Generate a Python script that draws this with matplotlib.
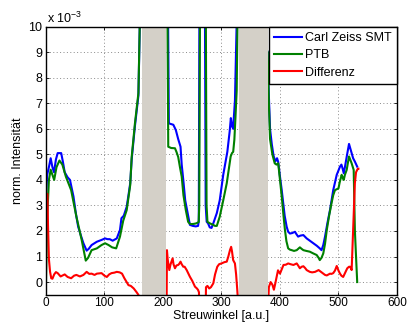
import numpy as np
import matplotlib
matplotlib.use("Agg")
import matplotlib.pyplot as plt

plt.rcParams['font.family'] = ['Liberation Sans', 'DejaVu Sans']
plt.rcParams['mathtext.fontset'] = 'custom'
plt.rcParams['mathtext.rm'] = 'Liberation Sans'
plt.rcParams['mathtext.it'] = 'Liberation Sans:italic'
plt.rcParams['mathtext.default'] = 'regular'

# ---- data (intensities in units of 1e-3) ----
zeiss_x = [0, 2, 5, 8, 11, 13.7, 17, 20, 26, 29, 32, 37, 41, 47, 51, 55, 60, 64, 69.5, 73, 78, 87, 95,
           101, 105, 109, 114, 121, 126.5, 129, 133, 138, 141, 144, 146.5, 152, 158, 160.7, 165, 200,
           205, 208.5, 210, 212, 217.7, 222, 226, 230, 232, 234.7, 238, 243, 246, 251, 256, 260, 261.2,
           262.5, 271.5, 273, 274.7, 277, 280, 283, 286, 292, 297, 303, 310, 314, 316, 318, 320, 321,
           323, 326, 330, 379, 381, 383, 386, 389, 392, 395, 397, 400, 403, 405.6, 408, 411.4, 414, 417,
           421, 425.6, 428, 431, 435, 440, 445.6, 451, 457, 463, 468, 471, 474, 477, 481, 485.5, 491, 497,
           502.6, 505, 507, 509, 511, 514, 518, 520, 522.5, 525, 528, 532]
zeiss_y = [3.4, 4.2, 4.5, 4.85, 4.5, 4.3, 4.8, 5.05, 5.05, 4.7, 4.3, 4.1, 4.0, 3.35, 2.7, 2.17, 1.8, 1.52,
           1.23, 1.3, 1.45, 1.58, 1.65, 1.71, 1.68, 1.68, 1.62, 1.71, 2.04, 2.5, 2.6, 2.95, 3.4, 3.87, 4.8,
           6.1, 7.3, 10.5, 14, 14, 12, 11, 6.22, 6.2, 6.16, 5.95, 5.6, 5.3, 4.6, 4.0, 3.2, 2.6, 2.24, 2.2,
           2.18, 2.2, 2.4, 12, 12, 3.0, 2.36, 2.3, 2.14, 2.12, 2.3, 2.7, 3.2, 4.2, 5.1, 5.9, 6.42, 6.1, 6.0,
           6.4, 7.1, 10.2, 12, 9.0, 7.3, 6.0, 5.4, 4.95, 4.72, 4.85, 4.7, 4.13, 3.6, 3.08, 2.6, 2.17, 1.97,
           1.9, 1.92, 1.97, 1.88, 1.78, 1.82, 1.84, 1.71, 1.62, 1.52, 1.42, 1.32, 1.25, 1.45, 1.78, 2.3,
           2.82, 3.6, 4.2, 4.52, 4.6, 4.45, 4.26, 4.5, 4.9, 5.41, 5.25, 5.05, 4.85, 4.72, 4.52]

ptb_x = [0, 2, 5, 8, 11, 14, 18, 23, 28, 34, 43, 52, 61, 68, 72, 78, 87, 95, 101, 107, 113, 120, 126.5,
         132, 138, 144, 146.5, 152, 158, 160.7, 165, 200, 205, 207.5, 209, 214, 220.5, 223, 226, 229, 232,
         235, 239, 243, 246, 249, 253, 257, 261, 262, 263.5, 273, 274.5, 276, 280, 285, 289, 292, 297, 303,
         309, 315.7, 318, 320, 322, 324, 326, 327.5, 330, 379, 381, 383, 387, 391, 394, 397, 400, 403, 406,
         408.5, 411, 414, 417, 420, 424, 428.6, 434, 437, 440, 445, 451, 457, 462.7, 466, 468, 471, 474,
         477, 480, 484, 488, 491, 494, 500, 502, 505.4, 507, 509, 511, 514, 518, 520, 522.5, 526, 528, 530,
         532]
ptb_y = [0.0, 2.5, 4.0, 4.4, 4.2, 4.0, 4.5, 4.76, 4.6, 4.13, 3.6, 2.56, 1.65, 0.84, 0.95, 1.25, 1.32,
         1.45, 1.52, 1.45, 1.36, 1.32, 1.78, 2.4, 2.82, 3.8, 4.9, 6.2, 7.4, 10.5, 14, 14, 12, 11, 5.3, 5.25,
         5.24, 5.1, 4.9, 4.5, 4.13, 3.4, 2.82, 2.36, 2.28, 2.27, 2.28, 2.3, 2.35, 3.0, 12, 12, 3.0, 2.36,
         2.3, 2.25, 2.2, 2.2, 2.56, 3.2, 3.87, 4.92, 5.05, 5.1, 5.57, 6.5, 7.5, 10.5, 12, 9.0, 7.0, 5.6,
         5.0, 4.65, 4.6, 4.65, 4.0, 3.35, 2.6, 2.04, 1.6, 1.32, 1.27, 1.25, 1.22, 1.25, 1.36, 1.3, 1.25,
         1.22, 1.19, 1.12, 1.06, 0.95, 0.86, 0.95, 1.12, 1.5, 2.04, 2.6, 3.08, 3.4, 3.6, 3.67, 3.9, 4.2,
         4.1, 4.0, 4.2, 4.39, 4.92, 4.8, 4.65, 4.39, 2.04, 1.0, 0.0]

diff_x = [0, 1, 2.5, 3.5, 5, 7, 9, 11, 14, 17, 20, 25, 32, 37, 43, 48, 52, 58, 64, 69.5, 74, 78, 83, 87,
          95, 100, 104, 108, 112, 117, 121, 126, 130, 134, 141, 145, 150, 155, 158, 161, 205, 206.3, 206.8,
          208, 210.8, 213, 216.5, 218, 220.5, 223, 226, 228, 230, 232, 234.7, 237, 240.5, 243, 246, 250,
          254.7, 258, 260, 261.5, 262, 273, 273.5, 276, 279, 282, 286, 289, 292.8, 296, 300, 305, 309,
          311.7, 314.5, 316.5, 318, 320, 323, 325, 327, 329, 379.5, 381, 384, 387, 389.6, 392, 396.6, 400,
          403, 406, 410, 414, 418, 423, 428.6, 431, 434, 437, 440, 443, 445.6, 451, 455, 460, 466, 470,
          474, 477, 480, 483, 485.5, 488, 491, 494, 497, 500, 502.6, 505, 508, 511, 515, 518, 520, 522.5,
          525.4, 528, 530, 533, 534]
diff_y = [2.4, 3.45, 3.45, 2.2, 0.9, 0.4, 0.15, 0.13, 0.3, 0.39, 0.35, 0.22, 0.3, 0.2, 0.15, 0.25, 0.28,
          0.22, 0.28, 0.4, 0.32, 0.33, 0.28, 0.33, 0.35, 0.25, 0.2, 0.3, 0.35, 0.37, 0.4, 0.38, 0.33, 0.15,
          -0.12, -0.15, -0.25, -0.4, -0.5, -0.7, -1.0, -0.5, 1.25, 0.9, 0.47, 0.7, 0.93, 0.7, 0.54, 0.65,
          0.67, 0.72, 0.8, 0.7, 0.6, 0.6, 0.47, 0.35, 0.21, 0.05, -0.18, -0.25, -0.31, -0.4, -1.0, -1.0,
          -0.2, -0.15, -0.25, -0.2, -0.05, 0.3, 0.6, 0.7, 0.73, 0.78, 0.8, 1.0, 1.25, 1.38, 1.2, 0.86,
          0.73, 0.3, -0.31, -1.0, -1.0, -0.2, 0.0, -0.1, -0.3, -0.05, 0.46, 0.33, 0.5, 0.67, 0.68, 0.73,
          0.7, 0.67, 0.73, 0.65, 0.54, 0.6, 0.62, 0.55, 0.47, 0.4, 0.38, 0.4, 0.47, 0.4, 0.33, 0.28, 0.26,
          0.3, 0.33, 0.32, 0.35, 0.45, 0.63, 0.45, 0.33, 0.25, 0.2, 0.35, 0.54, 0.6, 0.6, 0.47, 2.3, 3.87,
          4.3, 4.44, 4.44]

masked_regions = [(163.6, 204.6), (330.4, 379.5)]
labels = ['Carl Zeiss SMT', 'PTB', 'Differenz']
x_ticks = [0, 100, 200, 300, 400, 500, 600]
y_ticks = [0, 1, 2, 3, 4, 5, 6, 7, 8, 9, 10]

# ---- figure ----
fig = plt.figure(figsize=(4.08, 3.24), dpi=100)
ax = fig.add_axes([0.1127, 0.090, 0.8603, 0.8276])

ax.plot(zeiss_x, zeiss_y, color='#0000ff', lw=1.5, label=labels[0], zorder=2)
ax.plot(ptb_x, ptb_y, color='#008000', lw=1.5, label=labels[1], zorder=2.05)
ax.plot(diff_x, diff_y, color='#ff0000', lw=1.5, label=labels[2], zorder=2.1)

for x0, x1 in masked_regions:
    ax.axvspan(x0, x1, color='#d4d0c8', lw=0, zorder=2.3)

ax.set_xlim(0, 600)
ax.set_ylim(-0.5, 10)
ax.set_xticks(x_ticks)
ax.set_yticks(y_ticks)
ax.tick_params(direction='in', length=2.5, width=0.6, top=True, right=True, colors='black')
ax.tick_params(axis='x', pad=1.2, labelsize=8.5)
ax.tick_params(axis='y', pad=2.5, labelsize=9)
ax.grid(True, color='#8a8a8a', linestyle=(0, (1, 2.5)), lw=0.7)
ax.set_axisbelow(True)
for s in ax.spines.values():
    s.set_linewidth(1.0)
    s.set_zorder(2.5)

ax.set_xlabel('Streuwinkel [a.u.]', fontsize=9)
ax.set_ylabel('norm. Intensität', fontsize=9)
ax.xaxis.set_label_coords(0.5, -0.0565)
ax.yaxis.set_label_coords(-0.062, 0.5)

ax.annotate(r'x 10$^{-3}$', xy=(0, 1), xycoords='axes fraction', xytext=(0.5, 2.7),
            textcoords='offset points', ha='left', va='baseline', fontsize=9)

leg = ax.legend(loc='upper right', bbox_to_anchor=(1, 1), borderaxespad=0, fontsize=9,
                fancybox=False, framealpha=1, edgecolor='black', handlelength=2.2,
                handletextpad=0.25, borderpad=0.43, labelspacing=0.42)
leg.get_frame().set_linewidth(1.0)
leg.set_zorder(5)

fig.savefig('out.png', dpi=100)
